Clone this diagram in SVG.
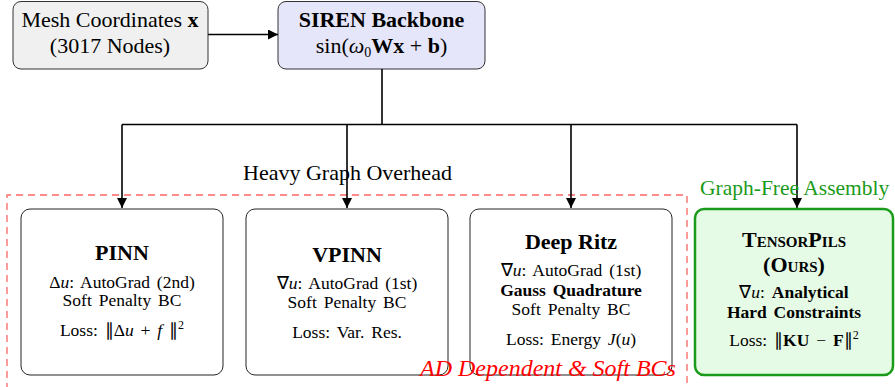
<svg xmlns="http://www.w3.org/2000/svg" width="895" height="387" viewBox="0 0 895 387">
<style>
text{font-family:"Liberation Serif","Times New Roman",serif;fill:#000}
.t{font-size:22px;font-family:"Liberation Serif",serif}
.h{font-size:22px;font-weight:bold;font-family:"Liberation Serif",serif}
.b{font-size:17.5px;word-spacing:2.5px;font-family:"Liberation Serif",serif}
.bb{font-size:17.5px;font-weight:bold;word-spacing:2.5px;font-family:"Liberation Serif",serif}
.box{fill:#fff;stroke:#222;stroke-width:1}
.ln{fill:none;stroke:#000;stroke-width:1.6}
.i{font-style:italic}
.m{font-weight:bold}
</style>
<defs>
<marker id="ah" viewBox="0 0 10 10" refX="10" refY="5" markerWidth="10" markerHeight="10" markerUnits="userSpaceOnUse" orient="auto">
<path d="M0,0 L10,5 L0,10 z" fill="#000"/>
</marker>
</defs>
<g id="region-ad">
<path d="M7,390 V195 H687 V390" fill="none" stroke="#ff6666" stroke-width="1.3" stroke-dasharray="7,5"/>
<text x="243" y="180" class="t">Heavy Graph Overhead</text>
</g>
<g id="mesh">
<rect x="13" y="1.5" width="195" height="67.5" rx="8" fill="#f0f0f0" stroke="#333"/>
<text x="110" y="27" class="t" text-anchor="middle">Mesh Coordinates <tspan class="m">x</tspan></text>
<text x="110" y="53" class="t" text-anchor="middle">(3017 Nodes)</text>
</g>
<g id="siren">
<rect x="278" y="1.5" width="207" height="67.5" rx="8" fill="#e6e6fa" stroke="#333"/>
<text x="381.5" y="27" class="h" text-anchor="middle">SIREN Backbone</text>
<text x="381.5" y="53" class="t" text-anchor="middle">sin(<tspan class="i">ω</tspan><tspan font-size="14" dy="4">0</tspan><tspan class="m" dy="-4">Wx</tspan> + <tspan class="m">b</tspan>)</text>
</g>
<g id="connectors">
<line x1="208" y1="34.5" x2="278" y2="34.5" class="ln" marker-end="url(#ah)"/>
<polyline points="382,69 382,124.5" class="ln"/>
<line x1="122" y1="124.5" x2="797" y2="124.5" class="ln"/>
<line x1="122" y1="124.5" x2="122" y2="208" class="ln" marker-end="url(#ah)"/>
<line x1="347" y1="124.5" x2="347" y2="208" class="ln" marker-end="url(#ah)"/>
<line x1="571" y1="124.5" x2="571" y2="208" class="ln" marker-end="url(#ah)"/>
<line x1="797" y1="124.5" x2="797" y2="208" class="ln" marker-end="url(#ah)"/>
</g>
<g id="pinn">
<rect x="21" y="209" width="202" height="166" rx="9" class="box"/>
<text x="122" y="260" class="h" text-anchor="middle">PINN</text>
<text x="122" y="288" class="b" text-anchor="middle">Δ<tspan class="i">u</tspan>:  AutoGrad (2nd)</text>
<text x="122" y="306" class="b" text-anchor="middle">Soft Penalty BC</text>
<text x="122" y="336" class="b" text-anchor="middle">Loss:  ∥Δ<tspan class="i">u</tspan> + <tspan class="i">f</tspan> ∥<tspan font-size="12" dy="-7">2</tspan></text>
</g>
<g id="vpinn">
<rect x="246" y="209" width="202" height="166" rx="9" class="box"/>
<text x="347" y="262" class="h" text-anchor="middle">VPINN</text>
<text x="347" y="289" class="b" text-anchor="middle">∇<tspan class="i">u</tspan>:  AutoGrad (1st)</text>
<text x="347" y="308" class="b" text-anchor="middle">Soft Penalty BC</text>
<text x="347" y="338" class="b" text-anchor="middle">Loss:  Var.  Res.</text>
</g>
<g id="deepritz">
<rect x="470" y="209" width="202" height="166" rx="9" class="box"/>
<text x="571" y="249" class="h" text-anchor="middle">Deep Ritz</text>
<text x="571" y="276" class="b" text-anchor="middle">∇<tspan class="i">u</tspan>:  AutoGrad (1st)</text>
<text x="571" y="296" class="bb" text-anchor="middle">Gauss Quadrature</text>
<text x="571" y="315" class="b" text-anchor="middle">Soft Penalty BC</text>
<text x="571" y="345" class="b" text-anchor="middle">Loss:  Energy <tspan class="i">J</tspan>(<tspan class="i">u</tspan>)</text>
</g>
<g id="ad-label">
<text x="420" y="376" font-size="24" style="fill:#ff0000;font-family:'Liberation Serif',serif" class="i">AD Dependent &amp; Soft BCs</text>
</g>
<g id="tensorpils">
<text x="700" y="195" font-size="21.5" style="fill:#1a9a1a;font-family:'Liberation Serif',serif">Graph-Free Assembly</text>
<rect x="695" y="209" width="198" height="166" rx="9" fill="#e6fbe6" stroke="#1a9a1a" stroke-width="2.5"/>
<text x="794" y="247" class="h" text-anchor="middle" font-variant="small-caps">TensorPils</text>
<text x="794" y="272" class="h" text-anchor="middle" font-variant="small-caps">(Ours)</text>
<text x="794" y="298" class="b" text-anchor="middle">∇<tspan class="i">u</tspan>:  <tspan font-weight="bold">Analytical</tspan></text>
<text x="794" y="318" class="bb" text-anchor="middle">Hard Constraints</text>
<text x="794" y="346" class="b" text-anchor="middle">Loss:  ∥<tspan class="m">KU</tspan> − <tspan class="m">F</tspan>∥<tspan font-size="12" dy="-7">2</tspan></text>
</g>
</svg>
